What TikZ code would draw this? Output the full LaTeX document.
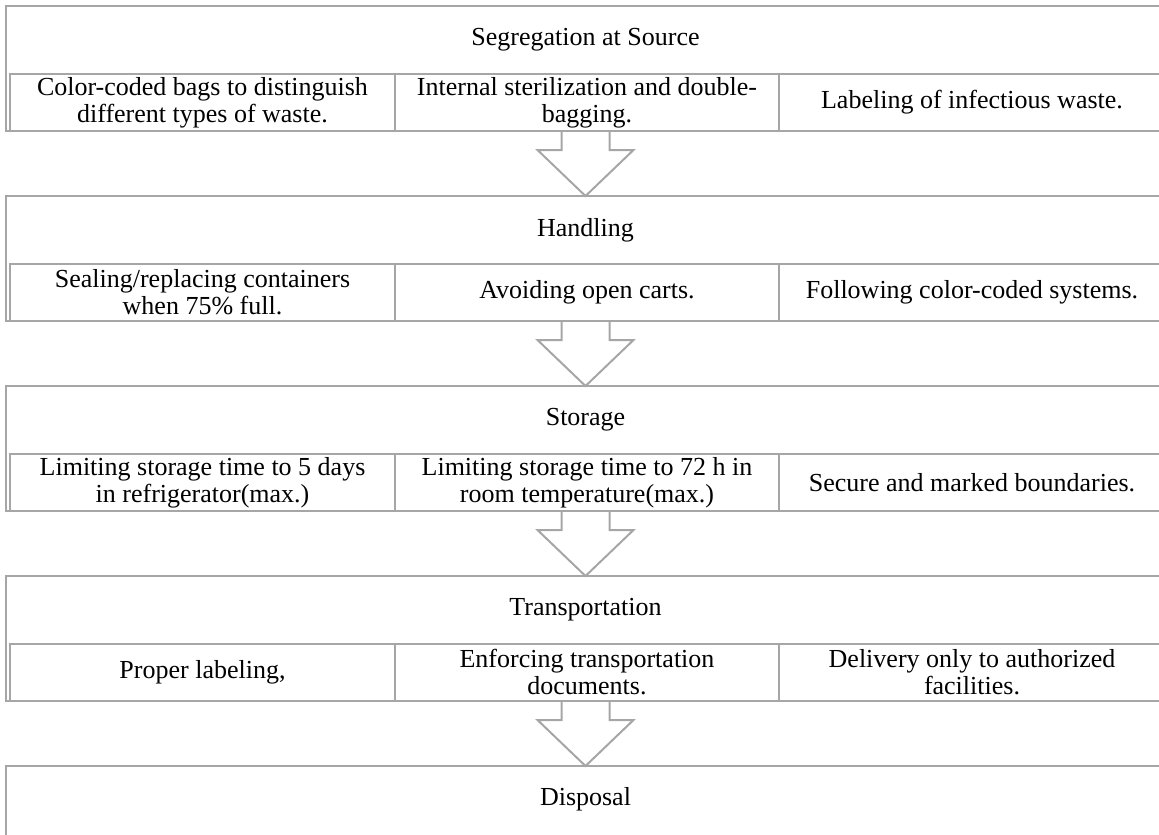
\documentclass[tikz,border=0pt]{standalone}
\usepackage{fontspec}
\setmainfont{Liberation Serif}
\usepackage{tikz}
\usetikzlibrary{positioning,calc}
\usepackage{xcolor}
\definecolor{linegray}{RGB}{166,166,166}
\tikzstyle{stagebox} = [rectangle, draw=linegray, line width=2pt, inner sep=0pt, outer sep=0pt, minimum width=1159pt, minimum height=125pt]
\tikzstyle{cellbox} = [rectangle, draw=linegray, line width=2pt, inner sep=0pt, outer sep=0pt, minimum height=57pt, align=center, font=\fontsize{26}{27}\selectfont]
\tikzstyle{headtext} = [font=\fontsize{26}{27}\selectfont]
\tikzstyle{blockarrow} = [draw=linegray, line width=2pt, line join=miter]
\newcommand{\stagearrow}[2]{\draw[blockarrow] ($(#1.south)+(-24,0)$) -- ++(0,19) -- ++(-24,0) -- (#2.north) -- ++(48,-46) -- ++(-24,0) -- ++(0,-19);}

\begin{document}
\begin{tikzpicture}[x=1pt, y=-1pt]
\useasboundingbox (0,0) rectangle (1159,835);

% Segregation at Source
\node (seg) [stagebox] at (585.5,68.5) {};
\node (seghead) [headtext] at ($(seg.north)+(0,34)$) {Segregation at Source};
\node (seg1) [cellbox, minimum width=385pt, anchor=north west] at ($(seg.north west)+(4,68)$) {Color-coded bags to distinguish\\different types of waste.};
\node (seg2) [cellbox, minimum width=384pt, right=0pt of seg1] {Internal sterilization and double-\\bagging.};
\node (seg3) [cellbox, minimum width=386pt, right=0pt of seg2] {Labeling of infectious waste.};

% Handling
\node (hand) [stagebox, below=65pt of seg] {};
\node (handhead) [headtext] at ($(hand.north)+(0,34)$) {Handling};
\node (hand1) [cellbox, minimum width=385pt, anchor=north west] at ($(hand.north west)+(4,68)$) {Sealing/replacing containers\\when 75\% full.};
\node (hand2) [cellbox, minimum width=384pt, right=0pt of hand1] {Avoiding open carts.};
\node (hand3) [cellbox, minimum width=386pt, right=0pt of hand2] {Following color-coded systems.};

% Storage
\node (stor) [stagebox, below=65pt of hand] {};
\node (storhead) [headtext] at ($(stor.north)+(0,34)$) {Storage};
\node (stor1) [cellbox, minimum width=385pt, anchor=north west] at ($(stor.north west)+(4,68)$) {Limiting storage time to 5 days\\in refrigerator(max.)};
\node (stor2) [cellbox, minimum width=384pt, right=0pt of stor1] {Limiting storage time to 72 h in\\room temperature(max.)};
\node (stor3) [cellbox, minimum width=386pt, right=0pt of stor2] {Secure and marked boundaries.};

% Transportation
\node (trans) [stagebox, below=65pt of stor] {};
\node (transhead) [headtext] at ($(trans.north)+(0,34)$) {Transportation};
\node (trans1) [cellbox, minimum width=385pt, anchor=north west] at ($(trans.north west)+(4,68)$) {Proper labeling,};
\node (trans2) [cellbox, minimum width=384pt, right=0pt of trans1] {Enforcing transportation\\documents.};
\node (trans3) [cellbox, minimum width=386pt, right=0pt of trans2] {Delivery only to authorized\\facilities.};

% Disposal
\node (disp) [stagebox, below=65pt of trans, minimum height=100pt] {};
\node (disphead) [headtext] at ($(disp.north)+(0,33)$) {Disposal};

% arrows between stages
\stagearrow{seg}{hand}
\stagearrow{hand}{stor}
\stagearrow{stor}{trans}
\stagearrow{trans}{disp}
\end{tikzpicture}
\end{document}
